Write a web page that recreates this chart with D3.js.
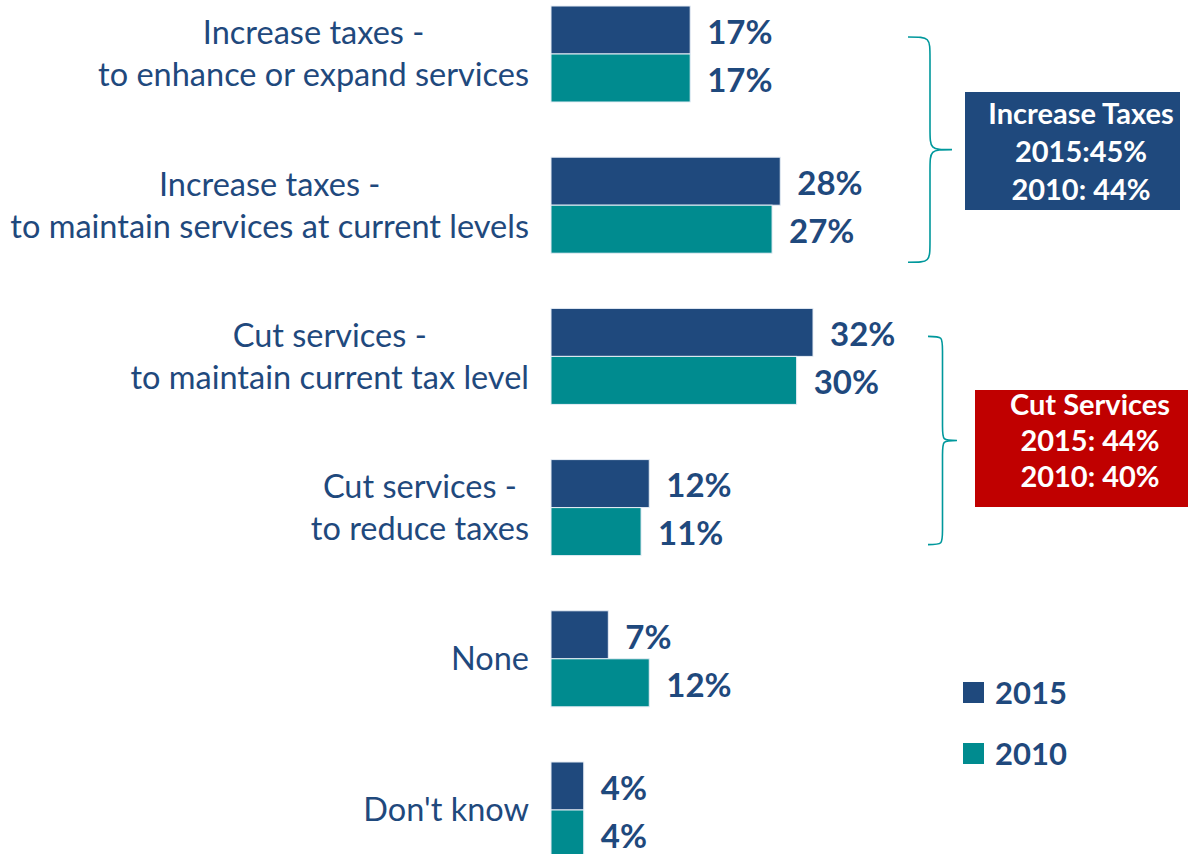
<!DOCTYPE html>
<html>
<head>
<meta charset="utf-8">
<script src="https://cdn.jsdelivr.net/npm/d3@7"></script>
<style>
  html, body { margin: 0; padding: 0; background: #ffffff; }
  svg { display: block; font-family: Lato, "Open Sans", sans-serif; }
</style>
</head>
<body>
<svg id="chart" width="1188" height="854"></svg>
<script>
// Survey answers (one band per answer, two lines per label)
const categories = [
  ["Increase taxes -", "to enhance or expand services"],
  ["Increase taxes -", "to maintain services at current levels"],
  ["Cut services -", "to maintain current tax level"],
  ["Cut services -", "to reduce taxes"],
  ["None"],
  ["Don't know"]
];
const seriesNames = ["2015", "2010"];
const values2015 = [17, 28, 32, 12, 7, 4];
const values2010 = [17, 27, 30, 11, 12, 4];

// Summary call-outs, each covering a range of answers
const summaries = [
  { lines: ["Increase Taxes", "2015:45%", "2010: 44%"], from: 0, to: 1, fill: "#1F497D" },
  { lines: ["Cut Services", "2015: 44%", "2010: 40%"], from: 2, to: 3, fill: "#C00000" }
];

const colors = { "2015": "#1F497D", "2010": "#008B8F" };
const textBlue = "#1F497D";
const braceColor = "#00989C";

const svg = d3.select("#chart");
const ids = categories.map((_, i) => i);

const y = d3.scaleBand().domain(ids).range([6, 858]).paddingInner(0.365).paddingOuter(0);
const ySeries = d3.scaleBand().domain(seriesNames).range([0, y.bandwidth()]);
const x = d3.scaleLinear().domain([0, 32]).range([551, 813]);

const rows = ids.map(i => ({
  i,
  label: categories[i],
  vals: [{ s: "2015", v: values2015[i] }, { s: "2010", v: values2010[i] }]
}));

// Bars and value labels
const g = svg.append("g");
const row = g.selectAll("g.row").data(rows).join("g")
  .attr("class", "row")
  .attr("transform", d => `translate(0,${y(d.i)})`);

row.selectAll("rect").data(d => d.vals).join("rect")
  .attr("x", x(0))
  .attr("y", d => ySeries(d.s))
  .attr("width", d => x(d.v) - x(0))
  .attr("height", ySeries.bandwidth())
  .attr("fill", d => colors[d.s])
  .attr("stroke", "#e8eef6")
  .attr("stroke-width", 1);

row.selectAll("text.val").data(d => d.vals).join("text")
  .attr("class", "val")
  .attr("x", d => x(d.v) + 17)
  .attr("y", d => ySeries(d.s) + ySeries.bandwidth() / 2)
  .attr("dy", "0.42em")
  .attr("fill", textBlue)
  .attr("font-weight", 700)
  .attr("font-size", 33)
  .text(d => d.v + "%");

// Category labels: lines centred on each other, block right-aligned to the bars
const labelRight = x(0) - 22;
row.each(function (d) {
  const sel = d3.select(this);
  const cy = y.bandwidth() / 2;
  const n = d.label.length;
  const texts = d.label.map((line, k) => sel.append("text")
    .attr("y", cy + (k - (n - 1) / 2) * 42)
    .attr("dy", "0.35em")
    .attr("fill", textBlue)
    .attr("font-size", 32.5)
    .text(line));
  const widths = texts.map(t => t.node().getComputedTextLength());
  const maxW = d3.max(widths);
  texts.forEach(t => t.attr("text-anchor", "middle").attr("x", labelRight - maxW / 2));
});

// Braces and call-out boxes
const braceSpecs = [
  { x0: 908, depth: 44, pad0: 31, pad1: 9, box: { x: 965, y: 92, w: 215, h: 118, tx: 1081, ty: 22, step: 38 } },
  { x0: 928, depth: 29, pad0: 28, pad1: -11, box: { x: 975, y: 390, w: 213, h: 117, tx: 1090, ty: 15, step: 36 } }
];

function bracePath(x0, top, bottom, depth) {
  const mid = (top + bottom) / 2;
  const xm = x0 + depth / 2;
  const r = Math.min(depth / 2, 22);
  return `M${x0},${top}` +
    `C${xm},${top} ${xm},${top} ${xm},${top + r}` +
    `L${xm},${mid - r}` +
    `C${xm},${mid} ${xm},${mid} ${x0 + depth},${mid}` +
    `C${xm},${mid} ${xm},${mid} ${xm},${mid + r}` +
    `L${xm},${bottom - r}` +
    `C${xm},${bottom} ${xm},${bottom} ${x0},${bottom}`;
}

summaries.forEach((s, k) => {
  const b = braceSpecs[k];
  const top = y(s.from) + b.pad0;
  const bottom = y(s.to) + y.bandwidth() + b.pad1;
  svg.append("path")
    .attr("d", bracePath(b.x0, top, bottom, b.depth))
    .attr("fill", "none")
    .attr("stroke", braceColor)
    .attr("stroke-width", 1.6);
  svg.append("rect")
    .attr("x", b.box.x).attr("y", b.box.y)
    .attr("width", b.box.w).attr("height", b.box.h)
    .attr("fill", s.fill);
  svg.append("g").selectAll("text").data(s.lines).join("text")
    .attr("x", b.box.tx)
    .attr("y", (d, i) => b.box.y + b.box.ty + i * b.box.step)
    .attr("dy", "0.35em")
    .attr("text-anchor", "middle")
    .attr("fill", "#ffffff")
    .attr("font-weight", 700)
    .attr("font-size", 29)
    .text(d => d);
});

// Legend
const legend = svg.append("g").selectAll("g").data(seriesNames).join("g")
  .attr("transform", (d, i) => `translate(963,${682 + i * 61})`);
legend.append("rect").attr("width", 21).attr("height", 21).attr("fill", d => colors[d]);
legend.append("text")
  .attr("x", 32).attr("y", 10.5).attr("dy", "0.36em")
  .attr("fill", textBlue)
  .attr("font-weight", 700)
  .attr("font-size", 31)
  .text(d => d);
</script>
</body>
</html>
